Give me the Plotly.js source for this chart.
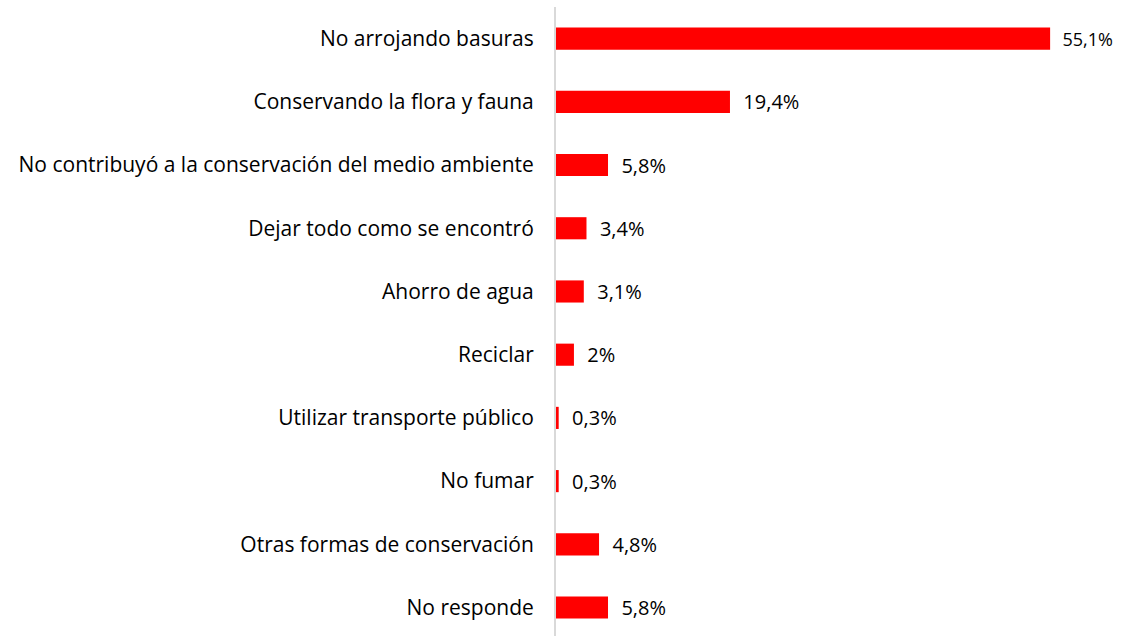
<!DOCTYPE html>
<html><head><meta charset="utf-8">
<script src="https://cdn.plot.ly/plotly-3.0.1.min.js"></script>
<style>html,body{margin:0;padding:0;background:#fff}#chart{width:1122px;height:636px}</style>
</head><body><div id="chart"></div>
<script>
const categories = ["No arrojando basuras","Conservando la flora y fauna","No contribuyó a la conservación del medio ambiente","Dejar todo como se encontró","Ahorro de agua","Reciclar","Utilizar transporte público","No fumar","Otras formas de conservación","No responde"];
const values = [55.1, 19.4, 5.8, 3.4, 3.1, 2.0, 0.3, 0.3, 4.8, 5.8];
const labels = ["55,1%","19,4%","5,8%","3,4%","3,1%","2%","0,3%","0,3%","4,8%","5,8%"];
const labelSizes = [18,20,20,20,20,20,20,20,20,20];
const FONT = "'Open Sans', sans-serif";
const trace = {
  type:'bar', orientation:'h', y:categories, x:values,
  text:labels.map(s=>'  '+s), textposition:'outside', cliponaxis:false, constraintext:'none',
  textfont:{family:FONT, size:labelSizes, color:'#000'},
  marker:{color:'#ff0000'}, hoverinfo:'skip'
};
const layout = {
  width:1122, height:636, margin:{l:556, r:10, t:7, b:0},
  paper_bgcolor:'#fff', plot_bgcolor:'#fff', showlegend:false, bargap:0.65,
  xaxis:{range:[0,62.0], showgrid:false, zeroline:false, showticklabels:false, showline:false, fixedrange:true},
  yaxis:{type:'category', range:[9.45,-0.5], showgrid:false, zeroline:false, showline:true, linecolor:'#d9d9d9', linewidth:2,
    ticks:'', ticklabelstandoff:16, tickfont:{family:FONT, size:21, color:'#000'}, fixedrange:true}
};
Plotly.newPlot('chart',[trace],layout,{displayModeBar:false,staticPlot:true});
</script></body></html>
